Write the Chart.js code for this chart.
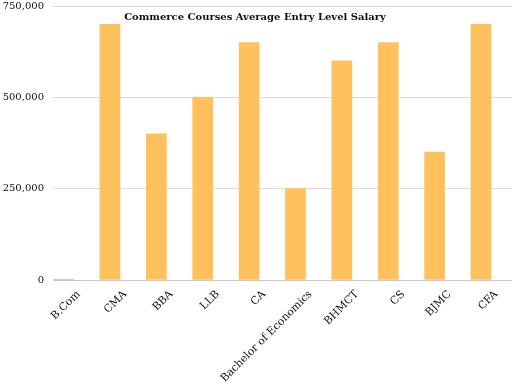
<!DOCTYPE html>
<html>
<head>
<meta charset="utf-8">
<script src="https://cdn.jsdelivr.net/npm/chart.js@4.4.1/dist/chart.umd.min.js"></script>
<style>
  html, body { margin: 0; padding: 0; background: #ffffff; }
  #wrap { position: relative; width: 512px; height: 384px; }
</style>
</head>
<body>
<div id="wrap"><canvas id="c" width="512" height="384"></canvas></div>
<script>
const categories = ["B.Com", "CMA", "BBA", "LLB", "CA", "Bachelor of Economics", "BHMCT", "CS", "BJMC", "CFA"];
const salaries = [2000, 700000, 400000, 500000, 650000, 250000, 600000, 650000, 350000, 700000];
const yTicks = [0, 250000, 500000, 750000];
const chartTitle = "Commerce Courses Average Entry Level Salary";

const FONT = "'DejaVu Serif', 'Liberation Serif', serif";

const titlePlugin = {
  id: 'inlineTitle',
  afterDraw(chart) {
    const ctx = chart.ctx;
    ctx.save();
    ctx.font = "bold 10px " + FONT;
    ctx.fillStyle = '#111111';
    ctx.textAlign = 'center';
    ctx.textBaseline = 'middle';
    ctx.fillText(chartTitle, 255, 17);
    ctx.restore();
  }
};

const points = salaries.map((v, i) => ({ x: i, y: v }));

new Chart(document.getElementById('c'), {
  type: 'bar',
  data: {
    datasets: [{
      data: points,
      backgroundColor: salaries.map((v, i) => i === 0 ? '#c4c4de' : '#FFC15E'),
      borderWidth: 0,
      barThickness: 20
    }]
  },
  options: {
    responsive: false,
    animation: false,
    layout: { padding: { top: 6, right: 0, bottom: 0, left: 0 } },
    plugins: { legend: { display: false }, tooltip: { enabled: false } },
    scales: {
      x: {
        type: 'linear',
        offset: false,
        min: -0.2286,
        max: 9.668,
        grid: { display: false },
        border: { display: false },
        afterFit: (axis) => { axis.paddingLeft = 0; axis.paddingRight = 0; axis.height = 104; },
        ticks: {
          stepSize: 1,
          includeBounds: false,
          autoSkip: false,
          minRotation: 45,
          maxRotation: 45,
          labelOffset: 15,
          padding: 0,
          color: '#111111',
          font: { family: FONT, size: 10.7 },
          callback: (v) => categories[v] !== undefined ? categories[v] : ''
        }
      },
      y: {
        min: 0,
        max: 750000,
        afterBuildTicks: (axis) => { axis.ticks = yTicks.map(v => ({ value: v })); },
        afterFit: (axis) => { axis.width = 53; axis.paddingTop = 0; axis.paddingBottom = 0; },
        grid: {
          drawTicks: false,
          color: (ctx) => ctx.tick && ctx.tick.value === 0 ? '#c6c6d2' : '#dcdcdc',
          lineWidth: 1
        },
        border: { display: false },
        ticks: {
          padding: 9,
          color: '#111111',
          font: { family: FONT, size: 10 },
          callback: (v) => v.toLocaleString('en-US')
        }
      }
    }
  },
  plugins: [titlePlugin]
});
</script>
</body>
</html>
